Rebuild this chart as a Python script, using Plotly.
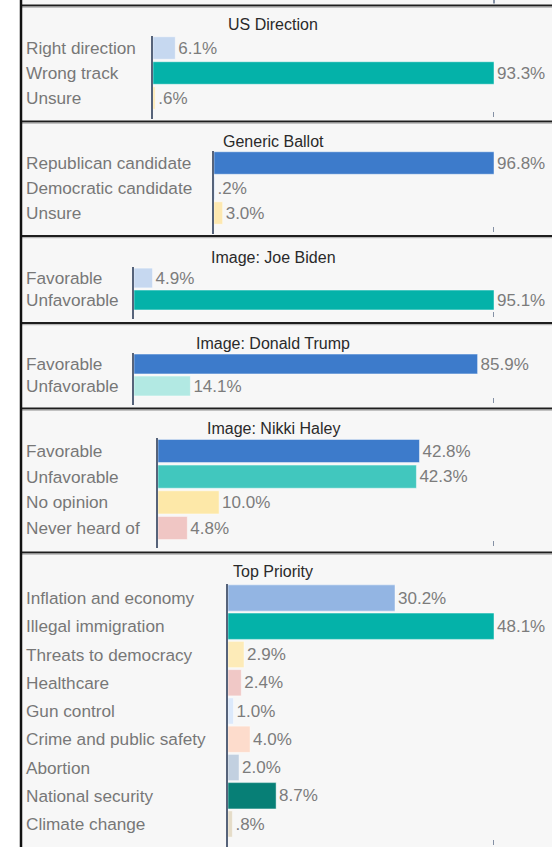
import plotly.graph_objects as go

W, H = 552, 847

# ---------------- data ----------------
titles = ["US Direction", "Generic Ballot", "Image: Joe Biden",
          "Image: Donald Trump", "Image: Nikki Haley", "Top Priority"]

us_dir_cats = ["Right direction", "Wrong track", "Unsure"]
us_dir_vals = [6.1, 93.3, 0.6]

ballot_cats = ["Republican candidate", "Democratic candidate", "Unsure"]
ballot_vals = [96.8, 0.2, 3.0]

biden_cats = ["Favorable", "Unfavorable"]
biden_vals = [4.9, 95.1]

trump_cats = ["Favorable", "Unfavorable"]
trump_vals = [85.9, 14.1]

haley_cats = ["Favorable", "Unfavorable", "No opinion", "Never heard of"]
haley_vals = [42.8, 42.3, 10.0, 4.8]

priority_cats = ["Inflation and economy", "Illegal immigration", "Threats to democracy",
                 "Healthcare", "Gun control", "Crime and public safety", "Abortion",
                 "National security", "Climate change"]
priority_vals = [30.2, 48.1, 2.9, 2.4, 1.0, 4.0, 2.0, 8.7, 0.8]

# ---------------- styling ----------------
colors = [
    ["#c6d8f0", "#04b2a9", "#fde8b0"],
    ["#3d7bcb", "#9ec3ef", "#fde8b0"],
    ["#c6d8f0", "#04b2a9"],
    ["#3d7bcb", "#b2e9e3"],
    ["#3d7bcb", "#41c7be", "#fde8a8", "#f0c6c4"],
    ["#93b5e3", "#04b2a9", "#fdebb8", "#f0c8c6", "#dce9fb", "#fddccc",
     "#c2d0e0", "#077f76", "#e5dcc8"],
]
cats = [us_dir_cats, ballot_cats, biden_cats, trump_cats, haley_cats, priority_cats]
vals = [us_dir_vals, ballot_vals, biden_vals, trump_vals, haley_vals, priority_vals]

# pixel geometry per panel: axis x, first row y, row spacing, plot bottom, axis max, title y
geom = [
    dict(ax=153, row0=48, sp=25.0, bottom=119, xmax=93.3, ty=25),
    dict(ax=214, row0=163, sp=25.0, bottom=234, xmax=96.8, ty=141),
    dict(ax=134, row0=278, sp=22.0, bottom=319, xmax=95.1, ty=257),
    dict(ax=134, row0=364, sp=22.0, bottom=405, xmax=90.0, ty=343),
    dict(ax=158, row0=451, sp=25.67, bottom=548, xmax=55.0, ty=428),
    dict(ax=228, row0=598, sp=28.25, bottom=847, xmax=48.1, ty=571),
]
X_END = 494
borders_y = [6, 122, 236.5, 323.5, 409, 553]

LABEL_FONT = dict(family="Liberation Sans, Arial, sans-serif", size=17.2, color="#777777")
VALUE_FONT = dict(family="Liberation Sans, Arial, sans-serif", size=17, color="#7c7c7c")
TITLE_FONT = dict(family="Liberation Sans, Arial, sans-serif", size=16, color="#2a2a2a")
AXIS_COLOR = "#56637a"
TICK_COLOR = "#8591a5"


def fmt(v):
    s = f"{v:.1f}%"
    return s[1:] if s.startswith("0.") else s


def py(p):
    return min(1.0, max(0.0, 1 - p / H))


fig = go.Figure()
annotations = []
shapes = []

# panel backgrounds
shapes.append(dict(type="rect", xref="paper", yref="paper", x0=22 / W, x1=1.02,
                   y0=0, y1=1.01, fillcolor="#f7f7f7", line=dict(width=0), layer="below"))
for by in borders_y:
    shapes.append(dict(type="line", xref="paper", yref="paper", x0=21 / W, x1=1.02,
                       y0=py(by - 0.5), y1=py(by - 0.5), line=dict(color="#1e1e1e", width=2),
                       layer="below"))
    shapes.append(dict(type="line", xref="paper", yref="paper", x0=21 / W, x1=1.02,
                       y0=py(by + 1.2), y1=py(by + 1.2), line=dict(color="#a8a8a8", width=1),
                       layer="below"))
shapes.append(dict(type="line", xref="paper", yref="paper", x0=21 / W, x1=21 / W,
                   y0=0, y1=1.01, line=dict(color="#111111", width=2.5)))
# end tick of the panel cut off above the view
shapes.append(dict(type="line", xref="paper", yref="paper", x0=X_END / W, x1=X_END / W,
                   y0=py(3.5), y1=py(0), line=dict(color=TICK_COLOR, width=2)))

layout_axes = {}
for i, g in enumerate(geom):
    n = len(cats[i])
    k = "" if i == 0 else str(i + 1)
    top = g["row0"] - g["sp"] / 2
    extra = (g["bottom"] - (g["row0"] + (n - 0.5) * g["sp"])) / g["sp"]
    fig.add_trace(go.Bar(
        orientation="h", y=cats[i], x=vals[i],
        marker=dict(color=colors[i], line=dict(color="rgba(255,255,255,0.45)", width=1)),
        width=0.9 if g["sp"] < 27 else 0.93,
        text=[fmt(v) for v in vals[i]], textposition="outside", cliponaxis=False,
        constraintext="none", textfont=VALUE_FONT, hoverinfo="skip",
        xaxis="x" + k, yaxis="y" + k, showlegend=False,
    ))
    layout_axes["xaxis" + k] = dict(
        domain=[g["ax"] / W, X_END / W], range=[0, g["xmax"]], anchor="y" + k,
        showgrid=False, zeroline=False, showline=False, showticklabels=False,
        ticks="", fixedrange=True,
    )
    layout_axes["yaxis" + k] = dict(
        domain=[py(g["bottom"]), py(top)], anchor="x" + k,
        type="category", categoryorder="array", categoryarray=cats[i],
        range=[n - 0.5 + extra, -0.5],
        showgrid=False, zeroline=False, showline=True, linecolor=AXIS_COLOR,
        linewidth=2, showticklabels=False, ticks="", fixedrange=True,
    )
    hpx = g["bottom"] - top
    # end-of-scale tick at the axis maximum
    shapes.append(dict(type="line", xref="x" + k, yref="y" + k + " domain",
                       x0=g["xmax"], x1=g["xmax"], y0=2 / hpx, y1=7 / hpx,
                       line=dict(color=TICK_COLOR, width=2)))
    annotations.append(dict(text=titles[i], xref="paper", yref="paper", x=273 / W,
                            y=py(g["ty"]), xanchor="center", yanchor="middle",
                            showarrow=False, font=TITLE_FONT))
    for c in cats[i]:
        annotations.append(dict(text=c, xref="paper", yref="y" + k, x=23.5 / W, y=c,
                                xanchor="left", yanchor="middle", showarrow=False,
                                font=LABEL_FONT))

fig.update_layout(
    width=W, height=H, margin=dict(l=0, r=0, t=0, b=0, pad=0),
    paper_bgcolor="white", plot_bgcolor="rgba(0,0,0,0)",
    shapes=shapes, annotations=annotations, bargap=0.1,
    **layout_axes,
)

fig.write_html(
    "out.html",
    config={"displayModeBar": False},
    post_script="document.body.style.margin='0';document.body.style.overflow='hidden';",
)
